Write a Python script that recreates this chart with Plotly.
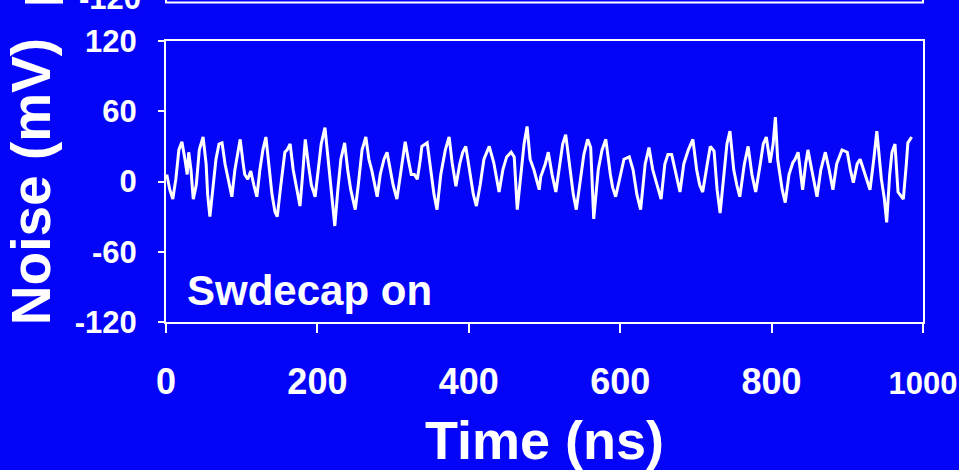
import plotly.graph_objects as go

# Supply-noise trace with the switched decoupling capacitor enabled
time_ns = [
    1, 5, 9, 13, 17, 21, 25, 28, 30, 33, 36, 40, 44, 49, 53, 55, 58, 62, 66, 70,
    74, 78, 82, 87, 91, 95, 98, 102, 104, 108, 112, 116, 120, 124, 128, 132, 136, 140, 144, 147,
    151, 155, 157, 160, 164, 168, 173, 177, 180, 184, 188, 192, 197, 201, 205, 210, 214, 218, 223, 227,
    231, 236, 240, 244, 250, 254, 259, 264, 268, 272, 279, 283, 288, 292, 296, 300, 305, 309, 313, 316,
    320, 324, 328, 332, 336, 338, 345, 350, 354, 358, 363, 369, 374, 378, 383, 388, 392, 396, 402, 406,
    410, 415, 420, 427, 433, 440, 445, 450, 456, 460, 464, 469, 473, 477, 481, 486, 493, 495, 501, 505,
    510, 515, 520, 524, 528, 534, 538, 542, 547, 552, 557, 561, 565, 571, 576, 581, 587, 590, 594, 600,
    605, 612, 617, 622, 627, 633, 638, 643, 649, 654, 659, 663, 668, 674, 679, 684, 690, 696, 701, 705,
    709, 715, 719, 724, 728, 732, 737, 741, 745, 750, 754, 758, 764, 769, 774, 779, 785, 789, 793, 798,
    802, 805, 808, 814, 818, 823, 828, 831, 835, 838, 841, 845, 848, 853, 860, 865, 871, 876, 881, 886,
    893, 900, 904, 908, 913, 917, 923, 930, 935, 939, 945, 949, 952, 956, 959, 963, 967, 974, 978, 980,
    985,
]
noise_mv = [
    6, -7, -15, 2, 27, 34, 19, 6, 25, 10, -15, -3, 27, 38, 15, -11, -30, -7, 19, 32,
    33, 15, 3, -13, 10, 27, 36, 15, 6, 2, 9, -3, -13, 10, 27, 38, 15, -11, -26, -30,
    -7, 15, 25, 27, 32, 10, -9, -21, 2, 36, 15, -3, -13, 10, 32, 46, 19, -11, -38, -7,
    19, 33, 10, -7, -24, -3, 27, 38, 19, 9, -13, 6, 19, 25, 10, -3, -15, 2, 23, 34,
    19, 6, 6, 2, 19, 30, 33, 6, -11, -24, 6, 27, 38, 16, -4, 15, 25, 30, 6, -11,
    -21, -3, 19, 30, 16, -9, 10, 21, 25, 21, -24, 10, 32, 47, 19, 10, -7, 4, 15, 25,
    6, -9, 15, 32, 40, 10, -11, -24, 2, 23, 36, 29, -32, 10, 27, 36, 6, -5, -13, 6,
    19, 21, 10, -11, -24, 15, 29, 10, -3, -15, 15, 23, 23, 6, -9, 15, 27, 36, 10, -3,
    -9, 15, 30, 26, -7, -27, 6, 32, 43, 10, -3, -13, 15, 30, 6, -9, 15, 32, 38, 16,
    32, 55, 19, -7, -18, 6, 16, 19, 25, 10, -7, 15, 27, 10, -13, 10, 25, 10, -7, 15,
    27, 25, 10, -1, 15, 19, 6, -7, 19, 43, 2, -15, -35, 6, 25, 32, -9, -15, 15, 33,
    38,
]

x_ticks = [0, 200, 400, 600, 800, 1000]
# the last label is set a little smaller so it fits inside the page edge
x_tick_text = ["0", "200", "400", "600", "800",
               '<span style="font-size:31px">1000</span>']
y_ticks = [-120, -60, 0, 60, 120]
y_tick_text = ["-120", "-60", "0", "60", "120"]

BLUE = "rgb(4,4,248)"
WHITE = "white"
FONT = "Liberation Sans, Arial, sans-serif"

fig = go.Figure()
fig.add_trace(go.Scatter(
    x=time_ns, y=noise_mv, mode="lines",
    line=dict(color=WHITE, width=3),
    hoverinfo="skip", showlegend=False,
))

# Panel label inside the plot area
fig.add_annotation(
    text="Swdecap on", x=0.025, y=0.112, xref="paper", yref="paper",
    xanchor="left", yanchor="middle", showarrow=False,
    font=dict(family=FONT, size=42, color=WHITE, weight="bold"),
)

# Bottom edge of the panel stacked above this one
fig.add_shape(
    type="rect", xref="paper", yref="paper", x0=0, x1=1, y0=1.137, y1=1.4,
    line=dict(color=WHITE, width=2), fillcolor="rgba(0,0,0,0)",
)
fig.add_annotation(
    text="-120", x=-0.03, y=1.153, xref="paper", yref="paper",
    xanchor="right", yanchor="middle", showarrow=False,
    font=dict(family=FONT, size=31, color=WHITE, weight="bold"),
)
fig.add_annotation(
    text="Noise (mV)", textangle=-90, x=-0.16, y=1.114, xref="paper", yref="paper",
    xanchor="center", yanchor="bottom", showarrow=False,
    font=dict(family=FONT, size=55, color=WHITE, weight="bold"),
)

fig.update_layout(
    width=959, height=470,
    margin=dict(l=166, r=36, t=41, b=148, autoexpand=False),
    paper_bgcolor=BLUE, plot_bgcolor=BLUE,
    font=dict(family=FONT, color=WHITE),
    xaxis=dict(
        range=[0, 1000], tickvals=x_ticks, ticktext=x_tick_text,
        ticks="outside", ticklen=9, tickwidth=2, automargin=False,
        tickcolor=WHITE, showline=True, linecolor=WHITE, linewidth=2, mirror=True,
        showgrid=False, zeroline=False, ticklabelstandoff=18,
        ticklabeloverflow="allow",
        tickfont=dict(family=FONT, size=36, color=WHITE, weight="bold"),
        title=dict(text="Time (ns)", standoff=22,
                   font=dict(family=FONT, size=54, color=WHITE, weight="bold")),
    ),
    yaxis=dict(
        range=[-120, 120], tickvals=y_ticks, ticktext=y_tick_text,
        ticks="outside", ticklen=6, tickwidth=2, automargin=False,
        tickcolor=WHITE, showline=True, linecolor=WHITE, linewidth=2, mirror=True,
        showgrid=False, zeroline=False, ticklabelstandoff=15,
        tickfont=dict(family=FONT, size=31, color=WHITE, weight="bold"),
        title=dict(text="Noise (mV)", standoff=19,
                   font=dict(family=FONT, size=55, color=WHITE, weight="bold")),
    ),
)

fig.write_html("out.html")
